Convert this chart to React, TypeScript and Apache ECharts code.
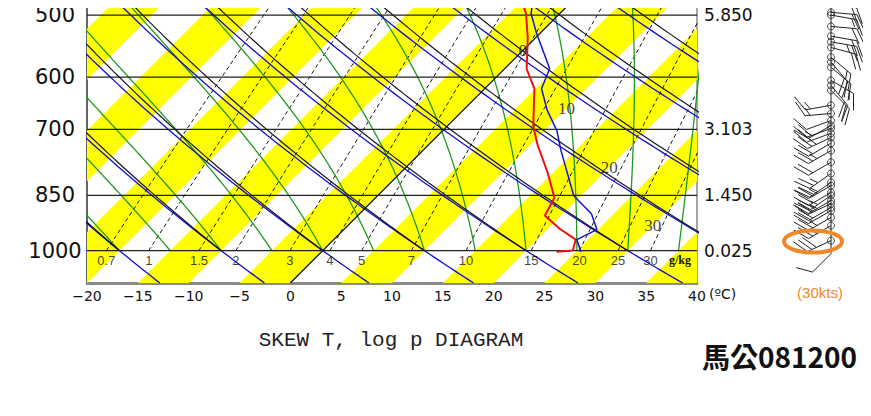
import React, { useEffect, useRef } from "react";
import * as echarts from "echarts";

// ---------- data ----------
const pressureLevels = [500, 600, 700, 850, 1000];
const heightLevels = [500, 700, 850, 1000];
const heightLabels = ["5.850", "3.103", "1.450", "0.025"];
const mixingRatios = [0.7, 1, 1.5, 2, 3, 4, 5, 7, 10, 15, 20, 25, 30];
const mixingLabels = ["0.7", "1", "1.5", "2", "3", "4", "5", "7", "10", "15", "20", "25", "30"];
const dryAdiabatBase = [-20, -10, 0, 10, 20, 30, 40, 50, 60, 70, 80];
const moistAdiabatBase = [-20, -15, -10, -5, 0, 5, 10, 15, 20, 25, 30, 35];
const isothermLabelT = [0, 10, 20, 30];
const isothermLabelP = [555, 658, 783, 929];

// sounding (pressure hPa, temperature degC)
const tempP = [1003, 1000, 968, 937, 902, 856, 794, 732, 694, 621, 586, 534, 498, 478];
const tempT = [23.1, 24.6, 23.8, 21.1, 18.4, 17.6, 14.4, 10.7, 8.5, 4.9, 2.2, -0.8, -3.3, -5.1];
const lineP = [1003, 968, 940, 897, 851, 745, 702, 662, 621, 585, 528, 498, 478];
const lineT = [25.5, 23.9, 24.9, 22.8, 19.3, 13.6, 11.2, 8.3, 5.6, 4.4, -0.3, -2.8, -4.0];

// wind (pressure hPa, direction deg, speed kt)
const windP = [483, 496, 500, 517, 532, 541, 550, 566, 574, 583, 606, 615, 624, 652, 668, 682, 692, 698, 708, 717, 729, 745, 771, 797, 818, 826, 843, 850, 863, 871, 881, 889, 907, 929, 971, 1009];
const windDir = [100, 95, 100, 95, 100, 100, 105, 130, 140, 130, 120, 140, 135, 260, 265, 250, 240, 250, 250, 245, 240, 240, 240, 235, 235, 240, 240, 235, 240, 245, 240, 240, 240, 240, 245, 225];
const windSpd = [20, 20, 15, 20, 20, 25, 20, 15, 20, 20, 15, 20, 20, 15, 15, 10, 15, 20, 20, 25, 20, 25, 20, 25, 25, 25, 20, 25, 25, 25, 20, 20, 25, 25, 30, 10];

// ---------- diagram geometry ----------
const PBOT = 1100;
const PTOP = 478.3;
const SKEW = 33.42;
const sx = (T: number, p: number) => T + SKEW * Math.log(PBOT / p);

const esat = (Tc: number) => 6.112 * Math.exp((17.67 * Tc) / (Tc + 243.5));
const moistRate = (Tc: number, p: number) => {
  const T = Tc + 273.15;
  const es = esat(Tc);
  const rs = (0.622 * es) / p;
  const Rd = 287.04, cp = 1005.7, L = 2.501e6, eps = 0.622;
  return (Rd * T + L * rs) / (cp + (L * L * rs * eps) / (Rd * T * T));
};

const dryLine = (t0: number, kappa: number, pStart: number) => {
  const pts: number[][] = [];
  for (let p = pStart; p >= PTOP - 10; p -= 10) {
    const T = (t0 + 273.15) * Math.pow(p / 1000, kappa) - 273.15;
    pts.push([sx(T, p), p]);
  }
  return pts;
};
const moistLine = (t0: number) => {
  const pts: number[][] = [];
  let T = t0;
  let lp = Math.log(1000);
  const h = -0.01;
  pts.push([sx(T, 1000), 1000]);
  while (Math.exp(lp) > PTOP - 10) {
    const p = Math.exp(lp);
    const k1 = moistRate(T, p);
    const k2 = moistRate(T + h * k1, Math.exp(lp + h));
    T = T + (h * (k1 + k2)) / 2;
    lp += h;
    pts.push([sx(T, Math.exp(lp)), Math.exp(lp)]);
  }
  return pts;
};
const mixT = (w: number, p: number) => {
  const e = (w * p) / 622;
  const l = Math.log(e / 6.112);
  return (243.5 * l) / (17.67 - l);
};
const mixLine = (w: number) => {
  const pts: number[][] = [];
  for (let p = 1000; p >= PTOP - 10; p -= 10) pts.push([sx(mixT(w, p), p), p]);
  return pts;
};

const ln = (data: number[][], color: string, width: number, type: any = "solid", z = 3) => ({
  type: "line",
  xAxisIndex: 0,
  yAxisIndex: 0,
  data,
  symbol: "none",
  silent: true,
  clip: true,
  z,
  lineStyle: { color, width, type },
});

const textSeries = (data: any[], label: any) => ({
  type: "scatter",
  xAxisIndex: 0,
  yAxisIndex: 0,
  silent: true,
  z: 7,
  symbolSize: 1,
  itemStyle: { color: "rgba(0,0,0,0)" },
  data,
  label: { show: true, formatter: (d: any) => d.name, color: "#111", ...label },
});

export default function App() {
  const ref = useRef<HTMLDivElement>(null);
  useEffect(() => {
    if (!ref.current) return;
    const chart = echarts.init(ref.current, undefined, { renderer: "svg" });

    const bands: number[][] = [];
    for (let k = -5; k <= 5; k++) bands.push([10 * k - 5, PBOT, 10 * k]);

    const series: any[] = [];
    series.push({
      type: "custom",
      xAxisIndex: 0,
      yAxisIndex: 0,
      clip: true,
      silent: true,
      z: 1,
      dimensions: ["t1", "p", "t2"],
      encode: { x: 0, y: 1 },
      data: bands,
      renderItem: (params: any, api: any) => {
        const t1 = api.value(0), t2 = api.value(2);
        const pts = [
          api.coord([sx(t1, PBOT), PBOT]),
          api.coord([sx(t2, PBOT), PBOT]),
          api.coord([sx(t2, PTOP), PTOP]),
          api.coord([sx(t1, PTOP), PTOP]),
        ];
        return { type: "polygon", shape: { points: pts }, style: { fill: "#ffff00" } };
      },
    });
    mixingRatios.forEach((w) => series.push(ln(mixLine(w), "#111", 1, [4, 3], 3)));
    moistAdiabatBase.forEach((t) => series.push(ln(moistLine(t), "#1f9a1f", 1.3, "solid", 4)));
    dryAdiabatBase.forEach((t) => series.push(ln(dryLine(t, 0.293, PBOT), "#1010c8", 1.3, "solid", 4)));
    dryAdiabatBase.forEach((t) => series.push(ln(dryLine(t, 0.2857, 1000), "#15152a", 1.2, "solid", 4)));
    series.push(ln([[sx(0, PBOT), PBOT], [sx(0, PTOP - 5), PTOP - 5]], "#111", 1.3, "solid", 4));
    pressureLevels.forEach((p) => series.push(ln([[-20, p], [40, p]], "#222", 1.2, "solid", 5)));
    series.push(ln(tempP.map((p, i) => [sx(tempT[i], p), p]), "#ee1111", 2, "solid", 6));
    series.push(ln(lineP.map((p, i) => [sx(lineT[i], p), p]), "#1414cc", 1.5, "solid", 6));
    series.push(
      textSeries(
        isothermLabelT.map((t, i) => ({ value: [sx(t, isothermLabelP[i]), isothermLabelP[i]], name: String(t) })),
        { position: "inside", fontFamily: "Liberation Serif", fontSize: 17 }
      )
    );
    series.push(
      textSeries(
        mixingRatios.map((w, i) => ({ value: [sx(mixT(w, 1000), 1000), 1000], name: mixingLabels[i] })),
        { position: "bottom", distance: 3, fontFamily: "Liberation Sans", fontSize: 13 }
      )
    );

    // wind column
    series.push({
      type: "line",
      xAxisIndex: 1,
      yAxisIndex: 2,
      data: [[0, PTOP - 5], [0, windP[windP.length - 1]]],
      symbol: "none",
      silent: true,
      clip: false,
      lineStyle: { color: "#222", width: 1 },
    });
    series.push({
      type: "custom",
      xAxisIndex: 1,
      yAxisIndex: 2,
      silent: true,
      clip: false,
      dimensions: ["x", "p", "dir", "spd"],
      encode: { x: 0, y: 1 },
      data: windP.map((p, i) => [0, p, windDir[i], windSpd[i]]),
      renderItem: (params: any, api: any) => {
        const p = api.value(1), dir = api.value(2), spd = api.value(3);
        const c = api.coord([0, p]);
        const rad = (dir * Math.PI) / 180;
        const dx = Math.sin(rad), dy = -Math.cos(rad);
        const L = 26;
        const ex = c[0] + dx * L, ey = c[1] + dy * L;
        const a = Math.atan2(Math.cos(rad), Math.sin(rad)) - Math.PI / 3;
        const fx = Math.cos(a), fy = -Math.sin(a);
        const st = { stroke: "#222", lineWidth: 1 };
        const children: any[] = [{ type: "line", shape: { x1: c[0], y1: c[1], x2: ex, y2: ey }, style: st }];
        let rem = Math.round(spd / 5) * 5;
        let pos = 0;
        while (rem >= 10) {
          const qx = ex - dx * pos, qy = ey - dy * pos;
          children.push({ type: "line", shape: { x1: qx, y1: qy, x2: qx + fx * 17, y2: qy + fy * 17 }, style: st });
          rem -= 10;
          pos += 5;
        }
        if (rem >= 5) {
          if (pos === 0) pos = 5;
          const qx = ex - dx * pos, qy = ey - dy * pos;
          children.push({ type: "line", shape: { x1: qx, y1: qy, x2: qx + fx * 9, y2: qy + fy * 9 }, style: st });
        }
        return { type: "group", children };
      },
    });
    series.push({
      type: "scatter",
      xAxisIndex: 1,
      yAxisIndex: 2,
      silent: true,
      z: 5,
      symbol: "circle",
      symbolSize: 7,
      itemStyle: { color: "rgba(0,0,0,0)", borderColor: "#222", borderWidth: 1 },
      data: windP.slice(0, windP.length - 1).map((p) => [0, p]),
    });

    const option: any = {
      animation: false,
      backgroundColor: "#ffffff",
      grid: [
        { left: 87, right: 174, top: 0, bottom: 133 },
        { left: 801, width: 60, top: 0, bottom: 133 },
      ],
      xAxis: [
        {
          type: "value",
          gridIndex: 0,
          min: -20,
          max: 40,
          interval: 5,
          axisLine: { show: true, onZero: false, lineStyle: { color: "#8a8a8a", width: 3 } },
          axisTick: { show: false },
          splitLine: { show: false },
          axisLabel: {
            margin: 6,
            fontSize: 14,
            color: "#111",
            fontFamily: "DejaVu Sans",
            formatter: (v: number) => (v < 0 ? "\u2212" + Math.abs(v) : String(v)),
          },
        },
        { type: "value", gridIndex: 1, min: -1, max: 1, show: false },
      ],
      yAxis: [
        {
          type: "log",
          gridIndex: 0,
          inverse: true,
          min: PTOP,
          max: PBOT,
          axisLine: { show: true, onZero: false, lineStyle: { color: "#333", width: 1.5 } },
          axisTick: { show: false },
          splitLine: { show: false },
          axisLabel: {
            customValues: pressureLevels,
            margin: 32,
            align: "center",
            fontSize: 21,
            color: "#111",
            fontFamily: "DejaVu Sans",
            formatter: (v: number) => String(Math.round(v)),
          },
        },
        {
          type: "log",
          gridIndex: 0,
          position: "right",
          inverse: true,
          min: PTOP,
          max: PBOT,
          axisLine: { show: true, onZero: false, lineStyle: { color: "#888", width: 1.5 } },
          axisTick: { show: false },
          splitLine: { show: false },
          axisLabel: {
            customValues: heightLevels,
            margin: 7,
            fontSize: 17,
            color: "#111",
            fontFamily: "DejaVu Sans",
            formatter: (v: number) => {
              const i = heightLevels.indexOf(Math.round(v));
              return i >= 0 ? heightLabels[i] : "";
            },
          },
        },
        { type: "log", gridIndex: 1, inverse: true, min: PTOP, max: PBOT, show: false },
      ],
      graphic: [
        { type: "text", x: 709, y: 294, z: 100, style: { text: "(ºC)", fontSize: 14, fontFamily: "DejaVu Sans", fill: "#111", textVerticalAlign: "middle" } },
        { type: "text", x: 680, y: 260, z: 100, style: { text: "g/kg", fontSize: 12, fontWeight: "bold", fontFamily: "Liberation Serif", fill: "#111", textAlign: "center", textVerticalAlign: "middle" } },
        {
          type: "ellipse",
          z: 100,
          shape: { cx: 813, cy: 241.5, rx: 29, ry: 11 },
          style: { fill: "none", stroke: "#f0882a", lineWidth: 4 },
        },
        { type: "text", x: 820, y: 292, z: 100, style: { text: "(30kts)", fontSize: 15, fontFamily: "Liberation Sans", fill: "#f0882a", textAlign: "center", textVerticalAlign: "middle" } },
        { type: "text", x: 391, y: 340, z: 100, style: { text: "SKEW T, log p DIAGRAM", fontSize: 21, fontFamily: "Liberation Mono", fill: "#222", textAlign: "center", textVerticalAlign: "middle" } },
        { type: "text", x: 857, y: 356, z: 100, style: { text: "馬公081200", fontSize: 28, fontWeight: "bold", fontFamily: "Noto Sans CJK TC", fill: "#111", textAlign: "right", textVerticalAlign: "middle" } },
      ],
      series,
    };
    chart.setOption(option);
    return () => chart.dispose();
  }, []);
  return <div ref={ref} style={{ width: 871, height: 416, margin: -8 }} />;
}
